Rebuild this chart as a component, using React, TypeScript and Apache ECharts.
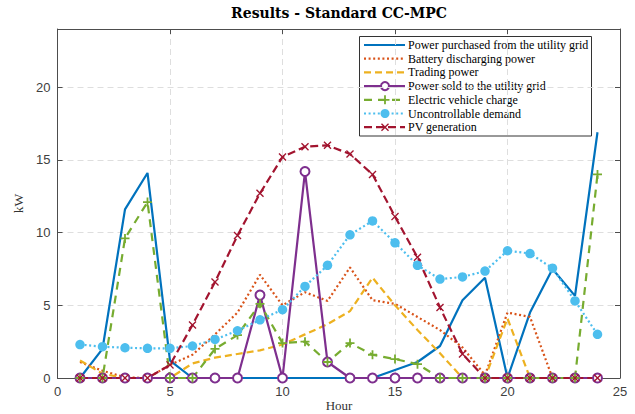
import React, { useEffect, useRef } from "react";
import * as echarts from "echarts";

const hours = [1, 2, 3, 4, 5, 6, 7, 8, 9, 10, 11, 12, 13, 14, 15, 16, 17, 18, 19, 20, 21, 22, 23, 24];
const purchased = [0, 2.0, 11.6, 14.1, 1.2, 0, 0, 0, 0, 0, 0, 0, 0, 0, 0.55, 1.1, 2.2, 5.35, 6.9, 0, 4.5, 7.5, 5.65, 16.9];
const battery = [1.1, 0.5, 0.05, 0, 0.9, 1.6, 3.0, 4.5, 7.1, 5.0, 5.9, 5.3, 7.6, 5.35, 5.1, 4.2, 3.3, 2.1, 0.2, 4.5, 4.2, 0, 0, 0];
const trading = [1.2, 0.3, 0, 0, 0, 1.0, 1.4, 1.65, 1.9, 2.3, 3.0, 3.7, 4.6, 6.9, 5.0, 3.3, 1.7, 0, 0, 4.1, 0, 0, 0, 0];
const sold = [0, 0, 0, 0, 0, 0, 0, 0, 5.7, 0, 14.2, 1.1, 0, 0, 0, 0, 0, 0, 0, 0, 0, 0, 0, 0];
const evCharge = [0, 0, 9.6, 12.1, 0, 0, 2.0, 2.95, 5.1, 2.4, 2.5, 1.1, 2.4, 1.6, 1.3, 0.95, 0, 0, 0, 0, 0, 0, 0, 14.0];
const demand = [2.3, 2.15, 2.08, 2.04, 2.04, 2.2, 2.65, 3.25, 4.0, 4.7, 6.3, 7.75, 9.85, 10.8, 9.3, 7.75, 6.8, 6.95, 7.35, 8.75, 8.56, 7.55, 5.3, 3.0];
const pv = [0, 0, 0, 0, 0.9, 3.65, 6.6, 9.8, 12.7, 15.2, 15.9, 16.0, 15.4, 14.0, 11.1, 8.3, 4.85, 1.65, 0, 0, 0, 0, 0, 0];

const seriesNames = [
  "Power purchased from the utility grid",
  "Battery discharging power",
  "Trading power",
  "Power sold to the utility grid",
  "Electric vehicle charge",
  "Uncontrollable demand",
  "PV generation",
];
const colors = ["#0072BD", "#D95319", "#EDB120", "#7E2F8E", "#77AC30", "#4DBEEE", "#A2142F"];
const dashes: (number[] | null)[] = [null, [2, 2.6], [7, 4], null, [8, 6], [2, 2.6], [8, 4]];
const markers = ["none", "none", "none", "open", "plus", "dot", "cross"];

const PLUS_PTS = [[4, 0], [6, 0], [6, 4], [10, 4], [10, 6], [6, 6], [6, 10], [4, 10], [4, 6], [0, 6], [0, 4], [4, 4]];
const CROSS_PTS = [[1.2, 0], [5, 3.8], [8.8, 0], [10, 1.2], [6.2, 5], [10, 8.8], [8.8, 10], [5, 6.2], [1.2, 10], [0, 8.8], [3.8, 5], [0, 1.2]];
const toPath = (pts: number[][]) => "path://M" + pts.map((p) => p[0] + "," + p[1]).join("L") + "Z";
const PLUS = toPath(PLUS_PTS);
const CROSS = toPath(CROSS_PTS);

const SERIF = "Liberation Serif, serif";
const SANS = "Liberation Sans, Arial, sans-serif";

function pairs(vals: number[]) {
  return hours.map((h, i) => [h, vals[i]]);
}

function legendGraphic() {
  const children: any[] = [];
  const bx = 359.5, by = 36.5, bw = 232, bh = 99.5;
  children.push({
    type: "rect",
    shape: { x: bx, y: by, width: bw, height: bh },
    style: { fill: "#ffffff", stroke: "#333333", lineWidth: 1 },
  });
  seriesNames.forEach((name, i) => {
    const cy = 45 + i * 13.7;
    const cx = 385;
    children.push({
      type: "line",
      shape: { x1: 364, y1: cy, x2: 405, y2: cy },
      style: { stroke: colors[i], lineWidth: 2.2, lineDash: dashes[i] || undefined },
    });
    const m = markers[i];
    if (m === "open") {
      children.push({ type: "circle", shape: { cx, cy, r: 4 }, style: { fill: "#fff", stroke: colors[i], lineWidth: 2 } });
    } else if (m === "dot") {
      children.push({ type: "circle", shape: { cx, cy, r: 4.5 }, style: { fill: colors[i] } });
    } else if (m === "plus") {
      children.push({
        type: "polygon",
        shape: { points: PLUS_PTS.map((p) => [cx + (p[0] - 5) * 0.9, cy + (p[1] - 5) * 0.9]) },
        style: { fill: colors[i] },
      });
    } else if (m === "cross") {
      children.push({
        type: "polygon",
        shape: { points: CROSS_PTS.map((p) => [cx + (p[0] - 5) * 0.8, cy + (p[1] - 5) * 0.8]) },
        style: { fill: colors[i] },
      });
    }
    children.push({
      type: "text",
      x: 408,
      y: cy,
      style: { text: name, font: "12px " + SERIF, fill: "#000", verticalAlign: "middle", align: "left" },
    });
  });
  return [
    { type: "group", z: 100, children },
    {
      type: "text",
      x: 339,
      y: 405.5,
      z: 100,
      style: { text: "Hour", font: "13px " + SERIF, fill: "#333", verticalAlign: "middle", align: "center" },
    },
  ];
}

export default function App() {
  const ref = useRef<HTMLDivElement>(null);
  useEffect(() => {
    if (!ref.current) return;
    const chart = echarts.init(ref.current, null, { renderer: "svg" });
    const axisColor = "#4d4d4d";
    const gridLine = { show: true, lineStyle: { color: "#dedede", type: [6, 4] as any, width: 1 } };
    const mkSeries = (i: number, vals: number[], extra: any) => ({
      name: seriesNames[i],
      type: "line",
      data: pairs(vals),
      lineStyle: { color: colors[i], width: 2.2, type: (dashes[i] || "solid") as any },
      itemStyle: { color: colors[i] },
      ...extra,
    });
    chart.setOption({
      animation: false,
      backgroundColor: "#ffffff",
      title: {
        text: "Results - Standard CC-MPC",
        left: 339,
        top: 6,
        padding: 0,
        textAlign: "center",
        textStyle: { fontFamily: "DejaVu Serif, serif", fontWeight: "bold", fontSize: 14, color: "#000" },
      },
      grid: { left: 57.5, right: 15, top: 29, bottom: 36, show: false, outerBoundsMode: "none", containLabel: false },
      xAxis: [
        {
          type: "value",
          min: 0,
          max: 25,
          interval: 5,
          axisLine: { show: true, onZero: false, lineStyle: { color: axisColor, width: 1 } },
          axisTick: { show: true, inside: true, length: 5, lineStyle: { color: axisColor } },
          axisLabel: { fontFamily: SANS, fontSize: 13, color: "#404040", margin: 7 },
          splitLine: gridLine,
        },
        {
          type: "value",
          position: "top",
          min: 0,
          max: 25,
          interval: 5,
          axisLine: { show: true, onZero: false, lineStyle: { color: axisColor, width: 1 } },
          axisTick: { show: true, inside: true, length: 5, lineStyle: { color: axisColor } },
          axisLabel: { show: false },
          splitLine: { show: false },
        },
      ],
      yAxis: [
        {
          type: "value",
          min: 0,
          max: 24,
          interval: 5,
          name: "kW",
          nameLocation: "middle",
          nameGap: 28,
          nameTextStyle: { fontFamily: SERIF, fontSize: 13.5, color: "#333" },
          axisLine: { show: true, onZero: false, lineStyle: { color: axisColor, width: 1 } },
          axisTick: { show: true, inside: true, length: 5, lineStyle: { color: axisColor } },
          axisLabel: { fontFamily: SANS, fontSize: 13, color: "#404040", margin: 7, showMaxLabel: false },
          splitLine: gridLine,
        },
        {
          type: "value",
          position: "right",
          min: 0,
          max: 24,
          interval: 5,
          axisLine: { show: true, onZero: false, lineStyle: { color: axisColor, width: 1 } },
          axisTick: { show: true, inside: true, length: 5, lineStyle: { color: axisColor } },
          axisLabel: { show: false },
          splitLine: { show: false },
        },
      ],
      graphic: legendGraphic(),
      series: [
        mkSeries(0, purchased, { symbol: "none" }),
        mkSeries(1, battery, { symbol: "none" }),
        mkSeries(2, trading, { symbol: "none" }),
        mkSeries(3, sold, {
          symbol: "emptyCircle",
          symbolSize: 9,
          showAllSymbol: true,
          itemStyle: { color: colors[3], borderColor: colors[3], borderWidth: 2 },
        }),
        mkSeries(4, evCharge, { symbol: PLUS, symbolSize: 9, showAllSymbol: true }),
        mkSeries(5, demand, { symbol: "circle", symbolSize: 9.5, showAllSymbol: true }),
        mkSeries(6, pv, { symbol: CROSS, symbolSize: 8, showAllSymbol: true }),
      ],
    });
    return () => chart.dispose();
  }, []);
  return (
    <div
      ref={ref}
      style={{ position: "absolute", left: 0, top: 0, width: 635, height: 414, background: "#fff" }}
    />
  );
}
